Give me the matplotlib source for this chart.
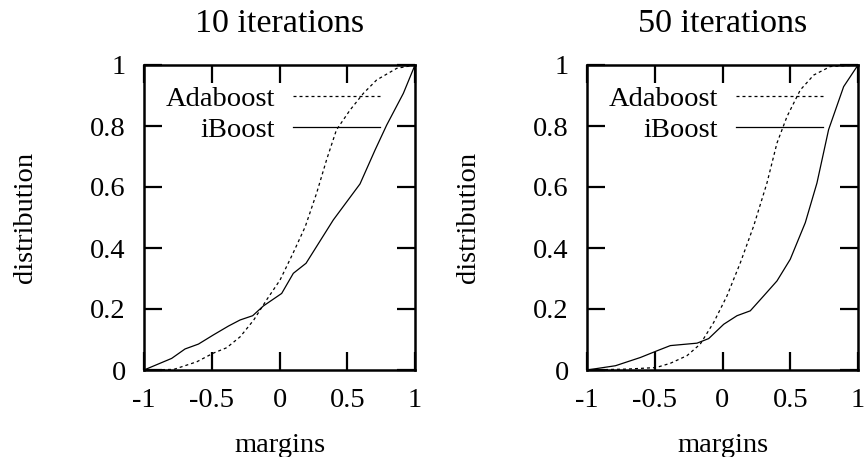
import numpy as np
import matplotlib.pyplot as plt

# margins vs cumulative distribution
ada10_x = [-1.0, -0.78, -0.61, -0.49, -0.39, -0.29, -0.19, -0.095, 0.004, 0.10, 0.19, 0.274, 0.348, 0.42, 0.52, 0.619, 0.717, 0.865, 1.0]
ada10_y = [0.0, 0.002, 0.027, 0.055, 0.073, 0.109, 0.164, 0.23, 0.295, 0.383, 0.47, 0.58, 0.69, 0.787, 0.852, 0.907, 0.951, 0.989, 1.0]
ib10_x = [-1.0, -0.796, -0.697, -0.598, -0.488, -0.377, -0.291, -0.198, -0.119, 0.016, 0.102, 0.196, 0.397, 0.594, 0.705, 0.791, 0.914, 1.0]
ib10_y = [0.0, 0.038, 0.069, 0.085, 0.115, 0.144, 0.164, 0.178, 0.210, 0.251, 0.317, 0.350, 0.492, 0.610, 0.721, 0.803, 0.907, 1.0]

ada50_x = [-1.0, -0.705, -0.49, -0.385, -0.262, -0.164, -0.065, 0.033, 0.132, 0.230, 0.328, 0.402, 0.476, 0.574, 0.673, 0.796, 1.0]
ada50_y = [0.0, 0.003, 0.008, 0.022, 0.047, 0.085, 0.156, 0.243, 0.352, 0.472, 0.613, 0.744, 0.831, 0.918, 0.967, 0.995, 1.0]
ib50_x = [-1.0, -0.79, -0.606, -0.483, -0.385, -0.188, -0.102, 0.009, 0.107, 0.205, 0.304, 0.402, 0.5, 0.611, 0.697, 0.783, 0.894, 1.0]
ib50_y = [0.0, 0.014, 0.041, 0.063, 0.08, 0.088, 0.103, 0.15, 0.178, 0.194, 0.243, 0.292, 0.363, 0.483, 0.613, 0.788, 0.929, 1.0]

titles = ['10 iterations', '50 iterations']
xticks = [-1, -0.5, 0, 0.5, 1]
xtick_labels = ['-1', '-0.5', '0', '0.5', '1']
yticks = [0, 0.2, 0.4, 0.6, 0.8, 1]
ytick_labels = ['0', '0.2', '0.4', '0.6', '0.8', '1']

plt.rcParams['font.family'] = ['Liberation Serif', 'DejaVu Serif']
plt.rcParams['font.size'] = 20.5

fig = plt.figure(figsize=(8.65, 4.57), dpi=100)
lefts = [144 / 865, 587 / 865]
data = [(ada10_x, ada10_y, ib10_x, ib10_y), (ada50_x, ada50_y, ib50_x, ib50_y)]

for left, title, (ax_, ay_, ix_, iy_) in zip(lefts, titles, data):
    ax = fig.add_axes([left, 87 / 457, 271 / 865, 305 / 457])
    ax.plot(ax_, ay_, color='black', lw=0.9, dashes=(2.4, 2.4), label='Adaboost')
    ax.plot(ix_, iy_, color='black', lw=0.9, label='iBoost')
    ax.set_xlim(-1, 1)
    ax.set_ylim(0, 1)
    ax.set_xticks(xticks)
    ax.set_xticklabels(xtick_labels)
    ax.set_yticks(yticks)
    ax.set_yticklabels(ytick_labels)
    ax.tick_params(direction='in', length=13, width=1.6, top=True, right=True, pad=13)
    for s in ax.spines.values():
        s.set_linewidth(1.8)
    ax.set_title(title, pad=24)
    ax.set_xlabel('margins', labelpad=14)
    ax.set_ylabel('distribution')
    ax.yaxis.set_label_coords(-0.39, 0.5)
    ax.legend(loc='upper right', bbox_to_anchor=(0.871, 0.93), frameon=False,
              markerfirst=False, handlelength=3.05, handletextpad=0.63,
              labelspacing=0.17, borderpad=0, borderaxespad=0)

fig.savefig('out.png', dpi=100)
